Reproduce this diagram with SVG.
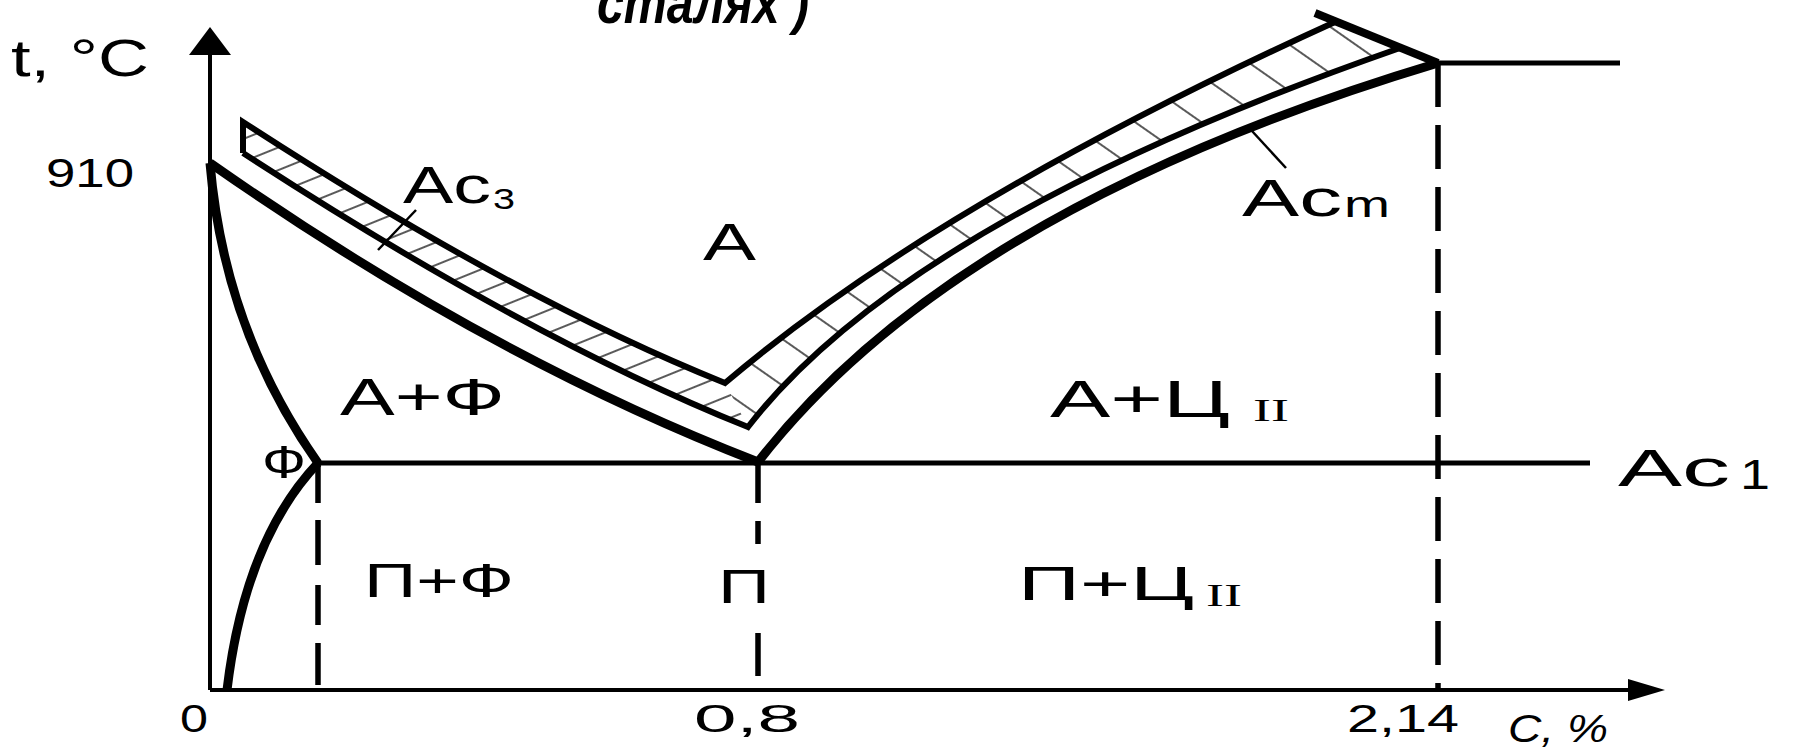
<svg xmlns="http://www.w3.org/2000/svg" width="1794" height="749" viewBox="0 0 1794 749">
<style>
.bg{fill:#fff}
.ax{stroke:#000;stroke-width:4;fill:none}
.thick{stroke:#000;stroke-width:9;fill:none;stroke-linejoin:round}
.band{stroke:#000;stroke-width:6;fill:none;stroke-linejoin:miter}
.ln{stroke:#000;stroke-width:5;fill:none}
.dash{stroke:#000;stroke-width:5.5;fill:none}
.lead{stroke:#000;stroke-width:2.5;fill:none}
.t{font-family:"Liberation Sans",Arial,sans-serif;fill:#000}
.s{font-family:"Liberation Serif","Times New Roman",serif;fill:#000}
</style>
<defs>
<pattern id="hatchL" patternUnits="userSpaceOnUse" width="40" height="21" patternTransform="rotate(-22)">
<line x1="0" y1="10" x2="40" y2="10" stroke="#222" stroke-width="1.6"/>
</pattern>
<pattern id="hatchR" patternUnits="userSpaceOnUse" width="60" height="38" patternTransform="rotate(35)">
<line x1="0" y1="19" x2="60" y2="19" stroke="#222" stroke-width="1.6"/>
</pattern>
</defs>
<rect class="bg" x="0" y="0" width="1794" height="749"/>

<g id="title">
<text class="t" x="597" y="23" font-size="60" font-weight="bold" font-style="italic" textLength="212" lengthAdjust="spacingAndGlyphs">сталях )</text>
</g>

<g id="hatching">
<path d="M243,122 Q515.8,299.3 725,383 L748,427 Q531,340.2 243,153 Z" fill="url(#hatchL)"/>
<path d="M725,383 Q936.5,203 1335,22 L1400,48 Q908,220 748,427 Z" fill="url(#hatchR)"/>
</g>

<g id="axes">
<path class="ax" d="M210,690 V50"/>
<polygon points="210,27 189,55 231,55" fill="#000"/>
<path class="ax" d="M210,690 H1640"/>
<polygon points="1665,690 1628,679 1628,701" fill="#000"/>
</g>

<g id="connectors">
<path id="GS" class="thick" d="M210,163 Q224,330 318,463"/>
<path id="PQ" class="thick" d="M227,690 Q245,540 318,463"/>
<path id="Ac3line" class="thick" d="M210,163 Q487,357 758,462"/>
<path id="Acmline" class="thick" d="M758,462 Q955,208 1438,63"/>
<path id="bandOuter" class="band" d="M243,153 L243,122 Q515.8,299.3 725,383 Q936.5,203 1335,22"/>
<path id="bandInner" class="band" d="M243,153 Q531,340.2 748,427 Q908,220 1400,48"/>
<path id="closing" class="thick" d="M1315,13 L1438,63" style="stroke-width:8"/>
<path id="Ac1line" class="ln" d="M318,463 H1590"/>
<path id="Eline" class="ln" d="M1438,63 H1620"/>
<path class="dash" d="M318,463 V503 M318,520 V565 M318,585 V625 M318,643 V685"/>
<path class="dash" d="M758,463 V503 M758,521 V544 M758,633 V676"/>
<path class="dash" d="M1438,63 V690" stroke-dasharray="44 18"/>
<path class="lead" d="M416,210 L378,250"/>
<path class="lead" d="M1252,131 L1286,168"/>
</g>

<g id="labels">
<text class="t" x="11" y="76" font-size="52" textLength="138" lengthAdjust="spacingAndGlyphs">t, °C</text>
<text class="t" x="46" y="187" font-size="40" textLength="88" lengthAdjust="spacingAndGlyphs">910</text>
<g id="lbl-Ac3">
<text class="t" x="403" y="203" font-size="52" textLength="88" lengthAdjust="spacingAndGlyphs">Ac</text>
<text class="t" x="493" y="209" font-size="29" textLength="22" lengthAdjust="spacingAndGlyphs">3</text>
</g>
<text id="lbl-A" class="t" x="703" y="260" font-size="52" textLength="53" lengthAdjust="spacingAndGlyphs">A</text>
<g id="lbl-Acm">
<text class="t" x="1242" y="216" font-size="52" textLength="100" lengthAdjust="spacingAndGlyphs">Ac</text>
<text class="t" x="1344" y="217" font-size="36" textLength="46" lengthAdjust="spacingAndGlyphs">m</text>
</g>
<text id="lbl-AF" class="t" x="340" y="415" font-size="52" textLength="165" lengthAdjust="spacingAndGlyphs">A+Ф</text>
<text id="lbl-F" class="t" x="262" y="478" font-size="46" textLength="44" lengthAdjust="spacingAndGlyphs">Ф</text>
<g id="lbl-ACII">
<text class="t" x="1050" y="417" font-size="52" textLength="180" lengthAdjust="spacingAndGlyphs">A+Ц</text>
<text class="s" x="1253" y="421" font-size="31" textLength="36" lengthAdjust="spacingAndGlyphs">II</text>
</g>
<g id="lbl-Ac1">
<text class="t" x="1618" y="486" font-size="52" textLength="112" lengthAdjust="spacingAndGlyphs">Ac</text>
<text class="t" x="1740" y="489" font-size="42" textLength="30" lengthAdjust="spacingAndGlyphs">1</text>
</g>
<text id="lbl-PF" class="t" x="364" y="597" font-size="48" textLength="150" lengthAdjust="spacingAndGlyphs">П+Ф</text>
<text id="lbl-P" class="t" x="718" y="603" font-size="48" textLength="52" lengthAdjust="spacingAndGlyphs">П</text>
<g id="lbl-PCII">
<text class="t" x="1018" y="600" font-size="48" textLength="176" lengthAdjust="spacingAndGlyphs">П+Ц</text>
<text class="s" x="1206" y="606" font-size="31" textLength="36" lengthAdjust="spacingAndGlyphs">II</text>
</g>
<text class="t" x="180" y="732" font-size="38" textLength="28" lengthAdjust="spacingAndGlyphs">0</text>
<text class="t" x="694" y="732" font-size="38" textLength="106" lengthAdjust="spacingAndGlyphs">0,8</text>
<text class="t" x="1347" y="732" font-size="38" textLength="112" lengthAdjust="spacingAndGlyphs">2,14</text>
<text class="t" x="1508" y="742" font-size="38" font-style="italic" textLength="100" lengthAdjust="spacingAndGlyphs">C, %</text>
</g>
</svg>
